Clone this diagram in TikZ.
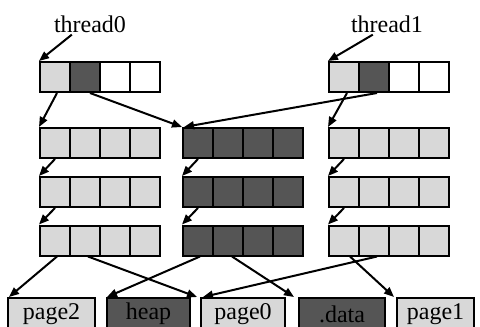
\documentclass[tikz,border=0pt]{standalone}
\usepackage{fontspec}
\setmainfont{Liberation Serif}
\usetikzlibrary{arrows.meta}
\definecolor{lightcell}{HTML}{D8D8D8}
\definecolor{darkcell}{HTML}{555555}
\tikzset{
  cell/.style={draw=black, line width=2pt, minimum width=30pt, minimum height=30pt, inner sep=0pt},
  pagebox/.style={draw=black, line width=2pt, minimum height=32pt, inner sep=0pt,
    font=\fontsize{24}{28}\selectfont},
  lbl/.style={font=\fontsize{24}{28}\selectfont, inner sep=2pt},
  ptr/.style={line width=2pt, -{Triangle[length=10pt,width=8pt]}},
}
% a row of four cells: name, x of first cell centre, y, four fills
\newcommand\cellrow[7]{%
  \node[cell, fill=#4] (#1-1) at (#2,#3) {};
  \node[cell, fill=#5] (#1-2) at (#2+30,#3) {};
  \node[cell, fill=#6] (#1-3) at (#2+60,#3) {};
  \node[cell, fill=#7] (#1-4) at (#2+90,#3) {};
}
\begin{document}
\begin{tikzpicture}[x=1pt, y=-1pt]
\useasboundingbox (0,0) rectangle (480,327);

% thread labels
\node[lbl] (th0) at (90,24) {thread0};
\node[lbl] (th1) at (387,24) {thread1};

% top-level tables
\cellrow{T0}{55}{77}{lightcell}{darkcell}{white}{white}
\cellrow{T1}{344}{77}{lightcell}{darkcell}{white}{white}

% second-level tables
\cellrow{L2}{55}{143}{lightcell}{lightcell}{lightcell}{lightcell}
\cellrow{M2}{198}{143}{darkcell}{darkcell}{darkcell}{darkcell}
\cellrow{R2}{344}{143}{lightcell}{lightcell}{lightcell}{lightcell}

% third-level tables
\cellrow{L3}{55}{192}{lightcell}{lightcell}{lightcell}{lightcell}
\cellrow{M3}{198}{192}{darkcell}{darkcell}{darkcell}{darkcell}
\cellrow{R3}{344}{192}{lightcell}{lightcell}{lightcell}{lightcell}

% leaf tables
\cellrow{L4}{55}{240.5}{lightcell}{lightcell}{lightcell}{lightcell}
\cellrow{M4}{198}{240.5}{darkcell}{darkcell}{darkcell}{darkcell}
\cellrow{R4}{344}{240.5}{lightcell}{lightcell}{lightcell}{lightcell}

% pages
\node[pagebox, fill=lightcell, minimum width=87pt] (pg2) at (51.5,314) {page2};
\node[pagebox, fill=darkcell, minimum width=83pt] (heap) at (148.5,314) {heap};
\node[pagebox, fill=lightcell, minimum width=84pt] (pg0) at (243,314) {page0};
\node[pagebox, fill=darkcell, minimum width=86pt] (data) at (342,314) {.data};
\node[pagebox, fill=lightcell, minimum width=77pt] (pg1) at (435.5,314) {page1};

% thread roots
\draw[ptr] ([xshift=20pt]th0.south west) -- (T0-1.north west);
\draw[ptr] ([xshift=24pt]th1.south west) -- (T1-1.north west);

% top-level entries
\draw[ptr] ([xshift=2pt]T0-1.south) -- (L2-1.north west);
\draw[ptr] ([xshift=5pt]T0-2.south) -- (M2-1.north west);
\draw[ptr] ([xshift=3pt]T1-2.south) -- ([xshift=2pt]M2-1.north west);
\draw[ptr] ([xshift=3pt]T1-1.south) -- (R2-1.north west);

% second-level entries
\draw[ptr] (L2-1.south) -- (L3-1.north west);
\draw[ptr] (M2-1.south) -- (M3-1.north west);
\draw[ptr] (R2-1.south) -- (R3-1.north west);

% third-level entries
\draw[ptr] (L3-1.south) -- (L4-1.north west);
\draw[ptr] (M3-1.south) -- (M4-1.north west);
\draw[ptr] (R3-1.south) -- (R4-1.north west);

% leaf entries
\draw[ptr] ([xshift=2pt]L4-1.south) -- ([xshift=2pt]pg2.north west);
\draw[ptr] ([xshift=3pt]L4-2.south) -- ([xshift=-3pt]pg0.north west);
\draw[ptr] ([xshift=2pt]M4-1.south) -- ([xshift=1pt]heap.north west);
\draw[ptr] ([xshift=4pt]M4-2.south) -- ([xshift=-4pt]data.north west);
\draw[ptr] ([xshift=3pt]R4-2.south) -- ([xshift=3pt]pg0.north west);
\draw[ptr] ([xshift=6pt]R4-1.south) -- ([xshift=-2pt]pg1.north west);
\end{tikzpicture}
\end{document}
